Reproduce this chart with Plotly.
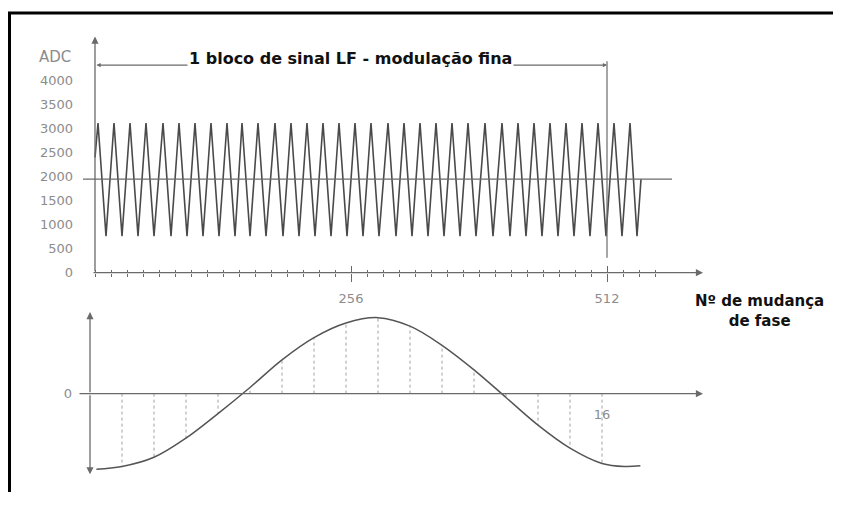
import plotly.graph_objects as go

# page body has an 8px margin, so the figure is sized to fit inside the 841x508 window
OFF = 8
W, H = 841 - 2 * OFF, 508 - 2 * OFF

# ---------------- data ----------------
# top: ADC samples of the LF signal block (vertices of the triangle-like wave)
adc_x = [0, 3, 11, 19, 27, 35, 43, 51, 59, 68, 76, 84, 92, 100, 108, 116, 124,
         132, 140, 147, 155, 163, 171, 180, 188, 196, 204, 212, 220, 228, 236,
         244, 252, 260, 268, 276, 284, 293, 301, 309, 317, 325, 333, 341, 349,
         357, 365, 373, 381, 390, 398, 407, 415, 423, 431, 439, 447, 455, 463,
         471, 479, 487, 495, 503, 511, 519, 527, 535, 542, 546]
adc_y = [2400, 3120, 760, 3120, 760, 3120, 760, 3120, 760, 3120, 760, 3120, 760,
         3120, 760, 3120, 760, 3120, 760, 3120, 760, 3120, 760, 3120, 760, 3120,
         760, 3120, 760, 3120, 760, 3120, 760, 3120, 760, 3120, 760, 3120, 760,
         3120, 760, 3120, 760, 3120, 760, 3120, 760, 3120, 760, 3120, 760, 3120,
         760, 3120, 760, 3120, 760, 3120, 760, 3120, 760, 3120, 760, 3120, 760,
         3120, 760, 3120, 760, 1950]
adc_ticks = [0, 500, 1000, 1500, 2000, 2500, 3000, 3500, 4000]
adc_tick_labels = ["0", "500", "1000", "1500", "2000", "2500", "3000", "3500", "4000"]
mid_level = 1950
block_end = 512
x_major_ticks = [256, 512]
x_major_labels = ["256", "512"]
x_minor_ticks = [0, 16, 32, 48, 64, 80, 96, 112, 128, 144, 160, 176, 192, 208,
                 224, 240, 256, 272, 288, 304, 320, 336, 352, 368, 384, 400, 416,
                 432, 448, 464, 480, 496, 512, 528, 544, 560]

# bottom: fine modulation curve and its 16 phase steps
curve_k = [0.2, 1, 2, 3, 4, 5, 6, 7, 8, 9, 10, 11, 12, 13, 14, 15, 16, 16.7, 17.2]
curve_v = [-0.985, -0.95, -0.83, -0.58, -0.26, 0.08, 0.44, 0.73, 0.92, 0.99, 0.88,
           0.63, 0.31, -0.05, -0.41, -0.71, -0.91, -0.95, -0.94]
step_k = [1, 2, 3, 4, 5, 6, 7, 8, 9, 10, 11, 12, 13, 14, 15, 16]
step_v = [-0.95, -0.83, -0.58, -0.26, 0.08, 0.44, 0.73, 0.92, 0.99, 0.88, 0.63,
          0.31, -0.05, -0.41, -0.71, -0.91]

title_text = "1 bloco de sinal LF - modulação fina"
x_title = "Nº de mudança<br>de fase"

# ---------------- helpers (screen pixel -> paper fraction) ----------------
def fx(p):
    return (p - OFF) / W

def fy(p):
    return 1 - (p - OFF) / H

AX = "#6a6a6a"
LBL = "#8c8c8c"
FONT = "DejaVu Sans"

fig = go.Figure()

# top wave
fig.add_trace(go.Scatter(x=adc_x, y=adc_y, mode="lines",
                         line=dict(color="#4a4a4a", width=1.6),
                         xaxis="x", yaxis="y", showlegend=False, hoverinfo="skip"))
# helper trace for the overlay axis (crossing ticks)
fig.add_trace(go.Scatter(x=[], y=[], xaxis="x3", yaxis="y", showlegend=False))

# bottom stems
sx, sy = [], []
for k, v in zip(step_k, step_v):
    sx += [k, k, None]
    sy += [0, v, None]
fig.add_trace(go.Scatter(x=sx, y=sy, mode="lines",
                         line=dict(color="#a0a0a0", width=1, dash="dot"),
                         xaxis="x2", yaxis="y2", showlegend=False, hoverinfo="skip"))
# bottom curve
fig.add_trace(go.Scatter(x=curve_k, y=curve_v, mode="lines",
                         line=dict(color="#555555", width=1.5, shape="spline", smoothing=1),
                         xaxis="x2", yaxis="y2", showlegend=False, hoverinfo="skip"))

top_xr = [-12, 610]
top_yr = [0, 240 / 0.04875]
bot_xr = [(78 - 90) / 32, (705 - 90) / 32]
bot_yr = [-90 / 78, 90 / 78]

tickfont = dict(family=FONT, size=13, color=LBL)

fig.update_layout(
    width=W, height=H,
    margin=dict(l=0, r=0, t=0, b=0),
    paper_bgcolor="white", plot_bgcolor="rgba(0,0,0,0)",
    showlegend=False,
    xaxis=dict(domain=[fx(83), fx(705)], range=top_xr, anchor="y",
               showgrid=False, zeroline=False, showline=False,
               tickmode="array", tickvals=x_major_ticks, ticktext=x_major_labels,
               ticks="outside", ticklen=8, tickwidth=1, tickcolor=AX,
               ticklabelstandoff=6, tickfont=tickfont,
               minor=dict(tickmode="array", tickvals=x_minor_ticks, ticks="outside",
                          ticklen=3, tickwidth=1, tickcolor=AX)),
    xaxis3=dict(overlaying="x", range=top_xr, anchor="y",
                showgrid=False, zeroline=False, showline=False, showticklabels=False,
                tickmode="array", tickvals=x_major_ticks,
                ticks="inside", ticklen=7, tickwidth=1, tickcolor=AX,
                minor=dict(tickmode="array", tickvals=x_minor_ticks, ticks="inside",
                           ticklen=3, tickwidth=1, tickcolor=AX)),
    yaxis=dict(domain=[fy(277), fy(37)], range=top_yr, anchor="x",
               showgrid=False, zeroline=False, showline=False,
               tickmode="array", tickvals=adc_ticks, ticktext=adc_tick_labels,
               ticks="", ticklabelstandoff=9, tickfont=tickfont),
    xaxis2=dict(domain=[fx(78), fx(705)], range=bot_xr, anchor="free",
                position=fy(400),
                showgrid=False, zeroline=False, showline=False,
                tickmode="array", tickvals=[16], ticktext=["16"], ticks="",
                ticklabelstandoff=11, tickfont=tickfont),
    yaxis2=dict(domain=[fy(490), fy(310)], range=bot_yr, anchor="free",
                position=fx(90),
                showgrid=False, zeroline=False, showline=False,
                tickmode="array", tickvals=[0], ticktext=["0"], ticks="",
                ticklabelstandoff=18, tickfont=tickfont),
)

arrow = dict(text="", showarrow=True, arrowhead=2, arrowsize=1.1, arrowwidth=1.3,
             arrowcolor=AX, standoff=0, startstandoff=0)

ann = []
# top axes
ann.append(dict(arrow, x=0, y=top_yr[1], ax=0, ay=0, xref="x", yref="y", axref="x", ayref="y"))
ann.append(dict(arrow, x=608, y=0, ax=-3, ay=0, xref="x", yref="y", axref="x", ayref="y"))
# bracket over the block
ann.append(dict(arrow, x=block_end, y=4328, ax=0, ay=4328, xref="x", yref="y",
                axref="x", ayref="y", arrowside="end+start", arrowsize=0.7, arrowwidth=1.2))
ann.append(dict(text="<b>" + title_text + "</b>", x=255, y=4472, xref="x", yref="y",
                xanchor="center", showarrow=False, bgcolor="white", borderpad=1,
                font=dict(family=FONT, size=16, color="#111111")))
ann.append(dict(text="ADC", x=fx(73), y=fy(58), xref="paper", yref="paper",
                xanchor="right", yanchor="middle", showarrow=False,
                font=dict(family=FONT, size=15, color=LBL)))
# bottom axes
ann.append(dict(arrow, x=(703 - 90) / 32, y=0, ax=bot_xr[0], ay=0, xref="x2", yref="y2",
                axref="x2", ayref="y2"))
ann.append(dict(arrow, x=0, y=(400 - 317) / 78, ax=0, ay=0, xref="x2", yref="y2",
                axref="x2", ayref="y2"))
ann.append(dict(arrow, x=0, y=-(482 - 400) / 78, ax=0, ay=0, xref="x2", yref="y2",
                axref="x2", ayref="y2"))
# x title (two lines, one text)
ann.append(dict(text="<b>" + x_title + "</b>", x=fx(759), y=fy(316), xref="paper",
                yref="paper", xanchor="center", yanchor="middle", align="center",
                showarrow=False,
                font=dict(family=FONT, size=15, color="#111111")))
fig.update_layout(annotations=ann)

shapes = [
    # mid level line
    dict(type="line", xref="x", yref="y", x0=-12, x1=577, y0=mid_level, y1=mid_level,
         line=dict(color=AX, width=1.2)),
    # end of block marker
    dict(type="line", xref="x", yref="y", x0=block_end, x1=block_end, y0=308, y1=4410,
         line=dict(color=AX, width=1.2)),
    # frame
    dict(type="line", xref="paper", yref="paper", x0=fx(8), x1=1, y0=fy(13), y1=fy(13),
         line=dict(color="black", width=3)),
    dict(type="line", xref="paper", yref="paper", x0=fx(9.5), x1=fx(9.5), y0=fy(12), y1=0,
         line=dict(color="black", width=3)),
]
fig.update_layout(shapes=shapes)

fig.write_html("out.html")
